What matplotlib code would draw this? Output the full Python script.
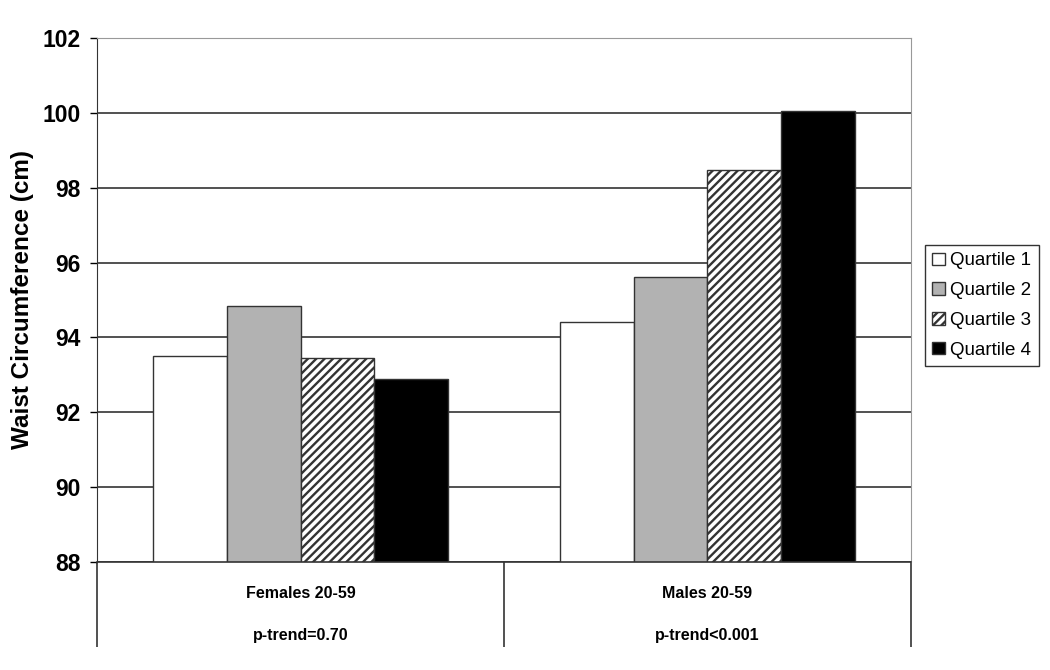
import numpy as np
from matplotlib import pyplot as plt

# data
groups = ['Females 20-59', 'Males 20-59']
ptrend = ['p-trend=0.70', 'p-trend<0.001']
quartiles = ['Quartile 1', 'Quartile 2', 'Quartile 3', 'Quartile 4']
q1 = [93.5, 94.42]
q2 = [94.85, 95.62]
q3 = [93.45, 98.47]
q4 = [92.9, 100.05]

plt.rcParams['font.family'] = ['Liberation Sans', 'DejaVu Sans']
plt.rcParams['hatch.linewidth'] = 1.7
plt.rcParams['hatch.color'] = 'black'


def PlotChart():
	fig = plt.figure(figsize=(10.5, 6.7), dpi=100)
	ax = fig.add_axes([0.0924, 0.1612, 0.7752, 0.7821])
	x = np.arange(len(groups))
	w = 0.1818
	series = [q1, q2, q3, q4]
	faces = ['white', '#b2b2b2', 'white', 'black']
	hatches = [None, None, '////', None]
	for i in range(4):
		ax.bar(x + (i - 1.5) * w, series[i], w, bottom=0, color=faces[i], edgecolor='#333333',
			linewidth=1.0, hatch=hatches[i], label=quartiles[i], zorder=3)
	ax.set_ylim(88, 102)
	ax.set_xlim(-0.5, 1.5)
	ax.set_yticks(np.arange(88, 103, 2))
	ax.tick_params(axis='y', direction='out', length=5, width=1, labelsize=16.5, pad=7)
	for t in ax.get_yticklabels():
		t.set_fontweight('bold')
	ax.yaxis.grid(True, color='#333333', linewidth=1.2, zorder=0)
	ax.set_axisbelow(True)

	# category axis: long dividers, labels in between
	ax.set_xticks([-0.5, 0.5, 1.5])
	ax.set_xticklabels(['', '', ''])
	ax.tick_params(axis='x', which='major', direction='out', length=61, width=1.2, color='#333333')
	ax.set_xticks(x, minor=True)
	ax.set_xticklabels([groups[i] + '\n\n' + ptrend[i] for i in range(len(groups))], minor=True,
		fontsize=11.5, fontweight='bold', linespacing=1.5)
	ax.tick_params(axis='x', which='minor', length=0, pad=17)

	ax.set_ylabel('Waist Circumference (cm)', fontsize=17.5, fontweight='bold', labelpad=6)
	for s in ['top', 'right']:
		ax.spines[s].set_color('#999999')
	ax.spines['left'].set_color('#333333')
	ax.spines['bottom'].set_color('#333333')
	ax.spines['bottom'].set_linewidth(1.2)
	ax.spines['bottom'].set_zorder(4)

	leg = ax.legend(loc='center left', bbox_to_anchor=(1.0172, 0.4895), fontsize=13.5, frameon=True,
		fancybox=False, edgecolor='black', handlelength=0.65, handleheight=0.65, handletextpad=0.3,
		borderpad=0.4, labelspacing=0.68, borderaxespad=0)
	leg.get_frame().set_linewidth(1.0)
	fig.savefig('out.png', dpi=100)


def main():
	PlotChart()


if __name__ == "__main__":
	main()
